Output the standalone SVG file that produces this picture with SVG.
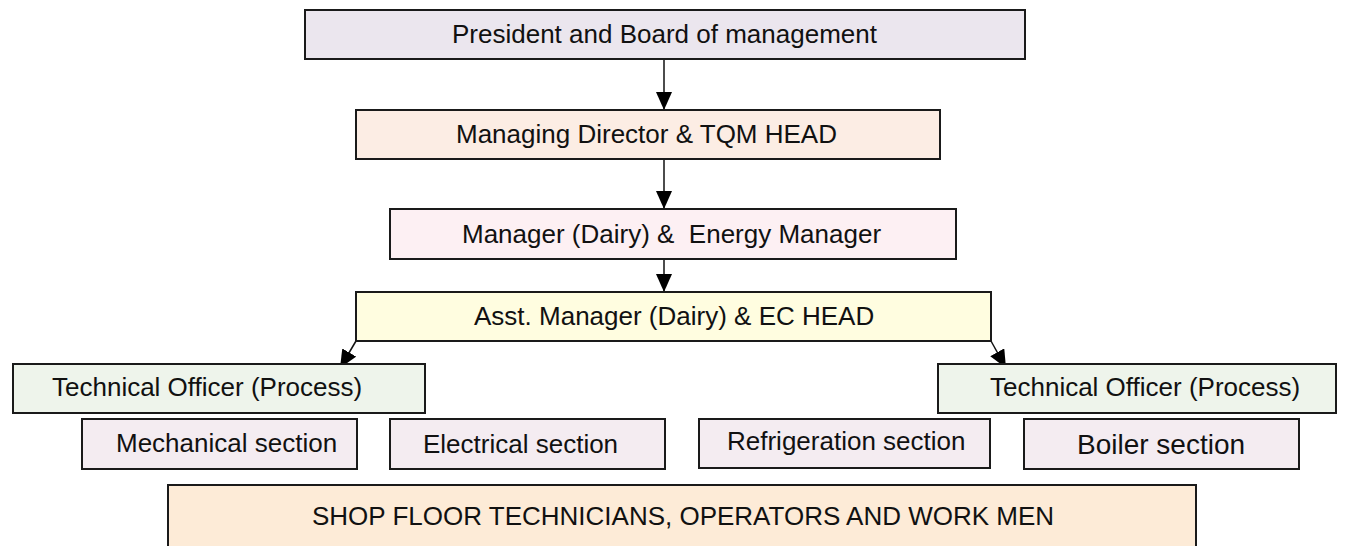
<svg xmlns="http://www.w3.org/2000/svg" width="1351" height="546" viewBox="0 0 1351 546">
<style>
.box{stroke:#1a1a1a;stroke-width:2}
.t{font-family:"Liberation Sans",Arial,sans-serif;font-size:26px;fill:#111}
.conn{stroke:#111;stroke-width:1.5;fill:none}
</style>
<defs>
<marker id="ah" markerUnits="userSpaceOnUse" markerWidth="18" markerHeight="16" refX="18" refY="8" orient="auto">
<path d="M0,0 L18,8 L0,16 z" fill="#000"/>
</marker>
</defs>
<rect width="1351" height="546" fill="#fff"/>
<g id="connectors">
<line class="conn" x1="664" y1="59" x2="664" y2="110" marker-end="url(#ah)"/>
<line class="conn" x1="664" y1="159" x2="664" y2="209" marker-end="url(#ah)"/>
<line class="conn" x1="664" y1="259" x2="664" y2="292" marker-end="url(#ah)"/>
<line class="conn" x1="356" y1="341" x2="340" y2="368" marker-end="url(#ah)"/>
<line class="conn" x1="991" y1="341" x2="1006" y2="368" marker-end="url(#ah)"/>
</g>
<g id="president">
<rect class="box" x="305" y="10" width="720" height="49" fill="#ebe6ee"/>
<text class="t" x="452" y="43">President and Board of management</text>
</g>
<g id="md">
<rect class="box" x="356" y="110" width="584" height="49" fill="#fcede4"/>
<text class="t" x="456" y="143">Managing Director &amp; TQM HEAD</text>
</g>
<g id="manager">
<rect class="box" x="390" y="209" width="566" height="50" fill="#fdf0f3"/>
<text class="t" x="462" y="243" xml:space="preserve">Manager (Dairy) &amp;  Energy Manager</text>
</g>
<g id="asst">
<rect class="box" x="356" y="292" width="635" height="49" fill="#fffde0"/>
<text class="t" x="474" y="325">Asst. Manager (Dairy) &amp; EC HEAD</text>
</g>
<g id="to-left">
<rect class="box" x="13" y="364" width="412" height="49" fill="#eef4eb"/>
<text class="t" x="52" y="396">Technical Officer (Process)</text>
</g>
<g id="to-right">
<rect class="box" x="938" y="364" width="398" height="49" fill="#eef4eb"/>
<text class="t" x="990" y="396">Technical Officer (Process)</text>
</g>
<g id="mechanical">
<rect class="box" x="82" y="419" width="275" height="50" fill="#f4ecf1"/>
<text class="t" x="116" y="452">Mechanical section</text>
</g>
<g id="electrical">
<rect class="box" x="390" y="419" width="275" height="50" fill="#f4ecf1"/>
<text class="t" x="423" y="453">Electrical section</text>
</g>
<g id="refrigeration">
<rect class="box" x="699" y="419" width="291" height="49" fill="#f4ecf1"/>
<text class="t" x="727" y="450">Refrigeration section</text>
</g>
<g id="boiler">
<rect class="box" x="1024" y="419" width="275" height="50" fill="#f4ecf1"/>
<text class="t" x="1077" y="454" style="font-size:28px">Boiler section</text>
</g>
<g id="shopfloor">
<rect class="box" x="168" y="485" width="1028" height="70" fill="#fdebd7"/>
<text class="t" x="312" y="525">SHOP FLOOR TECHNICIANS, OPERATORS AND WORK MEN</text>
</g>
</svg>
